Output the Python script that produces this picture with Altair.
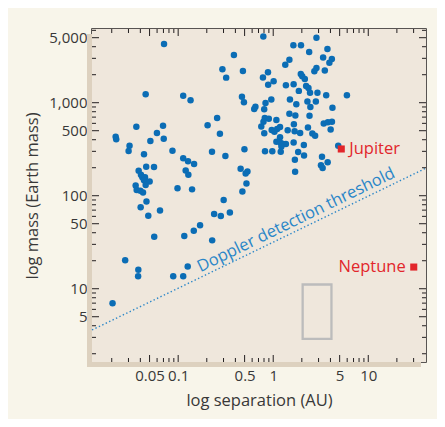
import altair as alt
import pandas as pd

# ---- data ----
separation = [
    0.071, 0.0455, 0.113, 0.135, 0.0363, 0.0693, 0.0220, 0.0223, 0.0598, 0.0705,
    0.051, 0.0308, 0.0301, 0.0437, 0.0871, 0.113, 0.127, 0.147, 0.120, 0.128,
    0.0461, 0.0557, 0.0384, 0.0406, 0.042, 0.0448, 0.0437, 0.0501, 0.0455, 0.0357,
    0.0366, 0.040, 0.0427, 0.0984, 0.140, 0.0464, 0.0403, 0.0644, 0.0485, 0.056,
    0.116, 0.146, 0.170, 0.0277, 0.0381, 0.0379, 0.0887, 0.113, 0.126, 0.0204,
    0.204, 0.257, 0.275, 0.227, 0.314, 0.498, 0.454, 0.536, 0.513, 0.523,
    0.474, 0.301, 0.239, 0.281, 0.350, 0.228, 0.787, 0.386, 0.292, 0.320,
    0.480, 0.469, 0.492, 0.650, 0.631, 1.34, 1.48, 0.881, 0.780, 1.01,
    0.885, 1.36, 0.830, 0.955, 0.804, 1.50, 0.815, 0.899, 0.790, 0.749,
    1.08, 0.964, 1.18, 1.10, 1.03, 2.85, 1.63, 1.96, 2.39, 3.72,
    3.35, 4.14, 3.90, 2.85, 2.71, 3.49, 1.95, 2.02, 2.15, 1.64,
    2.22, 2.35, 2.44, 1.86, 2.92, 3.61, 5.96, 1.75, 2.29, 2.81,
    2.46, 4.20, 1.48, 1.71, 2.41, 1.65, 2.32, 3.40, 3.76, 4.15,
    4.02, 1.42, 0.805, 1.68, 1.92, 2.58, 2.76, 1.18, 1.08, 1.20,
    1.27, 1.36, 1.22, 1.64, 2.10, 4.83, 0.820, 0.978, 1.20, 1.83,
    2.11, 1.69, 3.26, 3.74, 3.18, 3.31, 1.70,
]
mass = [
    4280, 1230, 1190, 1060, 552, 566, 430, 404, 472, 410,
    387, 345, 302, 279, 305, 253, 235, 219, 187, 168,
    205, 204, 186, 168, 158, 158, 147, 142, 130, 129,
    115, 113, 108, 120, 117, 86.7, 75.2, 69.3, 60.9, 36.2,
    36.9, 42.1, 48.2, 20.2, 16.0, 13.6, 13.6, 13.6, 17.3, 6.97,
    571, 684, 464, 297, 267, 316, 195, 182, 173, 135,
    111, 90, 63.5, 60.5, 65.9, 33.1, 5150, 3260, 2290, 1860,
    2190, 1160, 1010, 906, 855, 2560, 2890, 2130, 1870, 1700,
    1560, 1540, 993, 1080, 851, 1080, 683, 674, 625, 555,
    652, 508, 548, 521, 486, 4990, 4150, 4150, 3510, 3780,
    3060, 2950, 2690, 2360, 2180, 2220, 2040, 1920, 1800, 1580,
    1510, 1440, 1280, 1340, 1280, 1200, 1200, 961, 1030, 1030,
    899, 881, 760, 728, 724, 587, 542, 597, 617, 623,
    515, 505, 470, 492, 472, 467, 441, 425, 380, 369,
    360, 360, 338, 373, 351, 345, 301, 301, 297, 295,
    270, 244, 262, 229, 213, 199, 181,
]

threshold_sep = [0.0124, 40.5]
threshold_mass = [3.6, 198]
threshold_label = "Doppler detection threshold"
threshold_label_pos = [1.74, 54.8]

planet_names = ["Jupiter", "Neptune"]
planet_sep = [5.2, 30.1]
planet_mass = [318, 17.1]

box_sep = [2.04, 4.10]
box_mass = [2.89, 11.1]

x_domain = [0.0124, 40.5]
y_domain = [1.63, 6200]
x_labels = [0.05, 0.1, 0.5, 1, 5, 10]
x_minor = [0.02, 0.03, 0.04, 0.06, 0.07, 0.08, 0.09, 0.2, 0.3, 0.4, 0.6, 0.7,
           0.8, 0.9, 2, 3, 4, 6, 7, 8, 9, 20, 30]
y_labels = [5, 10, 50, 100, 500, 1000, 5000]
y_minor = [2, 3, 4, 6, 7, 8, 9, 20, 30, 40, 60, 70, 80, 90, 200, 300, 400, 600,
           700, 800, 900, 2000, 3000, 4000, 6000]

# ---- styling ----
W, H = 334, 333
FONT = "Open Sans"
TXT = "#383838"
BLUE = "#0b6db5"
LBLUE = "#2a86c8"
RED = "#e2262b"
FRAME = "#231f20"

xs = alt.Scale(type="log", domain=x_domain, nice=False)
ys = alt.Scale(type="log", domain=y_domain, nice=False)

xaxis = alt.Axis(values=x_labels, format="~g", ticks=False, domain=False, grid=False,
                 labelFont=FONT, labelFontSize=15, labelColor=TXT, labelPadding=6,
                 labelFlush=False, labelOverlap=False,
                 title="log separation (AU)", titleFont=FONT, titleFontSize=16.5,
                 titleFontWeight="normal", titleColor=TXT, titlePadding=9)
yaxis = alt.Axis(values=y_labels, format=",.0f", ticks=False, domain=False, grid=False,
                 labelFont=FONT, labelFontSize=15, labelColor=TXT, labelPadding=5,
                 labelFlush=False, labelOverlap=False,
                 title="log mass (Earth mass)", titleFont=FONT, titleFontSize=16.5,
                 titleFontWeight="normal", titleColor=TXT, titlePadding=8)

X = lambda f: alt.X(f, type="quantitative", scale=xs, axis=xaxis)
Y = lambda f: alt.Y(f, type="quantitative", scale=ys, axis=yaxis)

one = alt.Data(values=[{}])

shadow = alt.Chart(one).mark_rect(color="#ddd1bf").encode(
    x=alt.value(-5), x2=alt.value(W - 5), y=alt.value(5), y2=alt.value(H + 5))
plotbg = alt.Chart(one).mark_rect(color="#efe7dc").encode(
    x=alt.value(0), x2=alt.value(W), y=alt.value(0), y2=alt.value(H))

thr = pd.DataFrame({"sep": threshold_sep, "mass": threshold_mass})
line = alt.Chart(thr).mark_line(color=LBLUE, strokeDash=[1.4, 2.4], strokeWidth=1.4).encode(
    x=X("sep"), y=Y("mass"))

thr_txt = alt.Chart(pd.DataFrame({"sep": [threshold_label_pos[0]], "mass": [threshold_label_pos[1]],
                                  "t": [threshold_label]})).mark_text(
    angle=334, fontSize=16.5, font=FONT, color=LBLUE, align="center", baseline="middle").encode(
    x=X("sep"), y=Y("mass"), text="t:N")

box = alt.Chart(pd.DataFrame({"x1": [box_sep[0]], "x2": [box_sep[1]],
                              "y1": [box_mass[0]], "y2": [box_mass[1]]})).mark_rect(
    fillOpacity=0, stroke="#bcbcbc", strokeWidth=2.3).encode(
    x=X("x1"), x2="x2:Q", y=Y("y1"), y2="y2:Q")

pts = alt.Chart(pd.DataFrame({"sep": separation, "mass": mass})).mark_circle(
    size=42, color=BLUE, opacity=1).encode(x=X("sep"), y=Y("mass"))

planets_df = pd.DataFrame({"name": planet_names, "sep": planet_sep, "mass": planet_mass})
planets = alt.Chart(planets_df).mark_square(size=50, color=RED, opacity=1).encode(
    x=X("sep"), y=Y("mass"))
jup = alt.Chart(planets_df).transform_filter(alt.datum.name == "Jupiter").mark_text(
    align="left", dx=8, baseline="middle", fontSize=16.5, font=FONT, color=RED).encode(
    x=X("sep"), y=Y("mass"), text="name:N")
nep = alt.Chart(planets_df).transform_filter(alt.datum.name == "Neptune").mark_text(
    align="right", dx=-8, baseline="middle", fontSize=16.5, font=FONT, color=RED).encode(
    x=X("sep"), y=Y("mass"), text="name:N")

# inward ticks (drawn double length, clipped at the frame)
xt = pd.DataFrame({"v": x_labels + x_minor, "len": [14] * len(x_labels) + [8] * len(x_minor)})
yt = pd.DataFrame({"v": y_labels + y_minor, "len": [14] * len(y_labels) + [8] * len(y_minor)})
tick_kw = dict(clip=True, color=FRAME, thickness=1, opacity=1)
t_bottom = alt.Chart(xt).mark_tick(**tick_kw).encode(
    x=X("v"), y=alt.value(H), size=alt.Size("len:Q", scale=None))
t_top = alt.Chart(xt).mark_tick(**tick_kw).encode(
    x=X("v"), y=alt.value(0), size=alt.Size("len:Q", scale=None))
t_left = alt.Chart(yt).mark_tick(**tick_kw).encode(
    y=Y("v"), x=alt.value(0), size=alt.Size("len:Q", scale=None))
t_right = alt.Chart(yt).mark_tick(**tick_kw).encode(
    y=Y("v"), x=alt.value(W), size=alt.Size("len:Q", scale=None))

chart = alt.layer(
    shadow, plotbg, line, thr_txt, box, pts, planets, jup, nep,
    t_bottom, t_top, t_left, t_right,
).properties(
    width=W, height=H,
    autosize=alt.AutoSizeParams(type="none"),
    padding={"left": 84, "top": 21, "right": 11, "bottom": 57},
).configure(
    background="#f8f5ea",
).configure_view(
    stroke=FRAME, strokeWidth=1.5,
)

chart.save("out.html", embed_options={"renderer": "svg", "actions": False})
